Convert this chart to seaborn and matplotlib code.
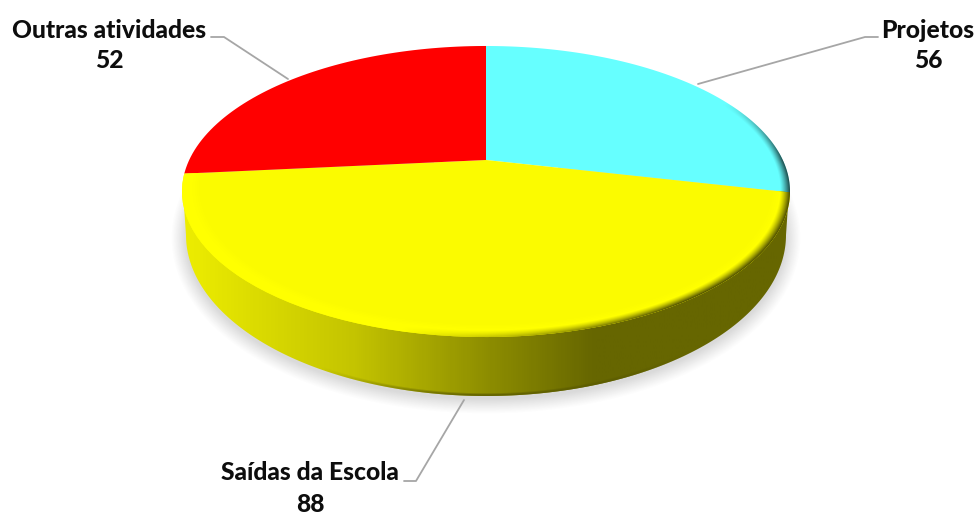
import numpy as np
import matplotlib
matplotlib.use('Agg')
import matplotlib.pyplot as plt
import seaborn as sns
from matplotlib.colors import LinearSegmentedColormap
from matplotlib.patches import Polygon
from matplotlib.path import Path
from matplotlib.transforms import Affine2D, Transform

categories = ['Projetos', 'Saídas da Escola', 'Outras atividades']
values = [56, 88, 52]
slice_colors = ['#66FFFF', '#FBFB00', '#FF0000']

sns.set_theme(style='white')
plt.rcParams['font.family'] = ['Lato', 'DejaVu Sans']

W, H = 978, 515

# perspective of the tilted disc, pixel units
cx, cy = 486, 160
p, a, c = 0.2165, 138.7, 296.8


class DiscProjection(Transform):
    input_dims = output_dims = 2

    def transform_non_affine(self, xy):
        xy = np.asarray(xy, dtype=float)
        w = 1 + p * xy[:, 1]
        return np.column_stack([cx + c * xy[:, 0] / w, cy - a * xy[:, 1] / w])

    def transform_path_non_affine(self, path):
        # flatten the arcs first, curves don't survive a projective map
        poly = path.transformed(Affine2D().scale(600)).to_polygons(closed_only=False)[0] / 600
        return Path(self.transform_non_affine(poly))


fig = plt.figure(figsize=(W / 100, H / 100), dpi=100)
ax = fig.add_axes([0, 0, 1, 1])

wedges, _ = ax.pie(values, colors=slice_colors, startangle=90, counterclock=False)
ax.set_aspect('auto')
ax.set_xlim(0, W)
ax.set_ylim(H, 0)
ax.axis('off')

proj = DiscProjection()
for w in wedges:
    w.set_transform(proj + ax.transData)
    w.set_zorder(5)
    w.set_linewidth(0)

X, Y = np.meshgrid(np.arange(W) + 0.5, np.arange(H) + 0.5)
full = (0, W, H, 0)

# soft shadow under the disc, fades over about the same pixels all round
bot_cy, bot_ry, bot_rx = 235, 161, 300
dx, dy = X - cx, Y - (bot_cy + 3)
sd = np.sqrt((dx / bot_rx) ** 2 + (dy / bot_ry) ** 2)
slope = np.sqrt((dx / bot_rx ** 2) ** 2 + (dy / bot_ry ** 2) ** 2) / np.maximum(sd, 1e-6)
px_out = (sd - 1) / np.maximum(slope, 1e-6)
shadow = np.zeros((H, W, 4))
shadow[..., :3] = 0.45
shadow[..., 3] = 0.26 * np.clip(1 - px_out / 15, 0, 1) ** 1.1
shadow[sd < 0.5, 3] = 0
ax.imshow(shadow, extent=full, aspect='auto', zorder=1, interpolation='bilinear')

# side wall with the left to right shading
t = np.linspace(np.pi, 0, 200)
wall_x = cx + bot_rx * np.cos(t)
wall_y = bot_cy + bot_ry * np.sin(t)
wall = Polygon(np.vstack([np.column_stack([wall_x, wall_y]), [[789, 191], [183, 191]]]),
               closed=True, fc='none', ec='none', zorder=2)
ax.add_patch(wall)
stops = [(0.0, '#EDED00'), (0.14, '#D8D800'), (0.28, '#C4C400'), (0.5, '#8E8E00'),
         (0.68, '#666600'), (1.0, '#666600')]
wall_cmap = LinearSegmentedColormap.from_list('wall', stops)
grad = np.linspace(0, 1, 300).reshape(1, -1)
im = ax.imshow(grad, cmap=wall_cmap, extent=(184, 788, H, 0), aspect='auto', zorder=2)
im.set_clip_path(wall)

# darker lip along the bottom of the wall
wd = np.sqrt(((X - cx) / bot_rx) ** 2 + ((Y - bot_cy) / bot_ry) ** 2)
lip = np.zeros((H, W, 4))
lip[..., 0] = lip[..., 1] = 0.36
lip[..., 3] = (0.8 * np.clip((wd - 0.98) / 0.012, 0, 1) * np.clip((X - 320) / 150, 0, 1)
               * np.clip((690 - X) / 80, 0, 1))
im = ax.imshow(lip, extent=full, aspect='auto', zorder=3, interpolation='bilinear')
im.set_clip_path(wall)

# bevel on the rim of the top face
yy = -(Y - cy) / (a + p * (Y - cy))
xx = (X - cx) * (1 + p * yy) / c
r = np.sqrt(xx ** 2 + yy ** 2)

band = np.zeros((H, W, 4))
band[..., 0] = band[..., 1] = 1
band[..., 3] = np.clip((r - 0.94) / 0.025, 0, 1)
im = ax.imshow(band, extent=full, aspect='auto', zorder=6, interpolation='bilinear')
im.set_clip_path(wedges[1])

dark = np.zeros((H, W, 4))
dark[..., 3] = (0.72 * np.clip((r - 0.968) / 0.032, 0, 1) ** 1.3 * np.clip((X - 400) / 280, 0, 1)
                * np.clip(1 - yy / 0.45, 0, 1))
top_face = Polygon(proj.transform_non_affine(np.column_stack([np.cos(np.linspace(0, 2 * np.pi, 400)),
                                                              np.sin(np.linspace(0, 2 * np.pi, 400))])),
                   closed=True, fc='none', ec='none', zorder=7)
ax.add_patch(top_face)
im = ax.imshow(dark, extent=full, aspect='auto', zorder=7, interpolation='bilinear')
im.set_clip_path(top_face)

ax.set_xlim(0, W)
ax.set_ylim(H, 0)

# leader lines
ax.plot([878, 865, 698], [37, 37, 84], color='#A6A6A6', lw=1.3, zorder=8)
ax.plot([404, 416, 464], [481, 481, 400], color='#A6A6A6', lw=1.3, zorder=8)
ax.plot([211, 224, 288], [37, 37, 79], color='#A6A6A6', lw=1.3, zorder=8)

# labels
label_pos = [(928, 30, 61), (310, 473, 505), (109, 30, 61)]
for name, val, (lx, ly1, ly2) in zip(categories, values, label_pos):
    ax.text(lx, ly1, name, ha='center', va='center', fontsize=17.7, fontweight='black',
            color='#0D0D0D', zorder=9)
    ax.text(lx, ly2, str(val), ha='center', va='center', fontsize=17.7, fontweight='black',
            color='#0D0D0D', zorder=9)

fig.savefig('out.png', dpi=100, facecolor='white')
